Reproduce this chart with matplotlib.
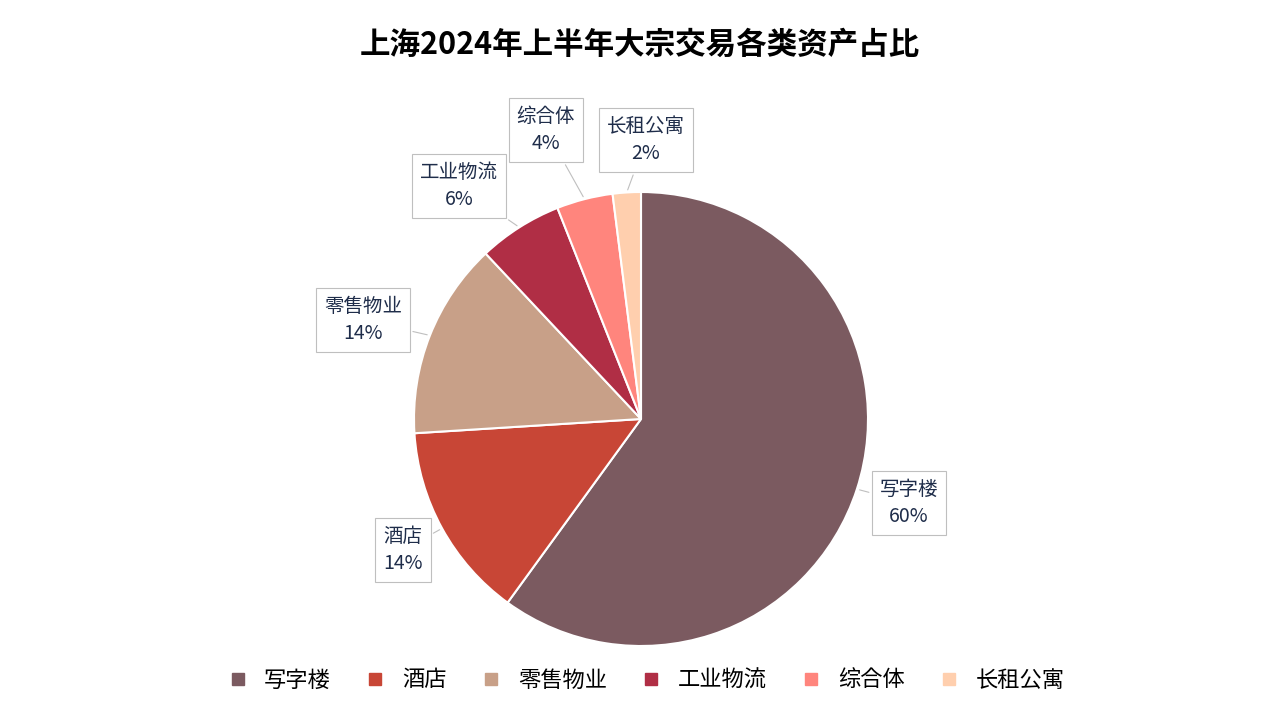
import numpy as np
import matplotlib.pyplot as plt
from matplotlib import font_manager

cjk = [f.name for f in font_manager.fontManager.ttflist if 'CJK' in f.name]
plt.rcParams['font.family'] = 'sans-serif'
plt.rcParams['font.sans-serif'] = ['Noto Sans CJK SC'] + cjk + ['DejaVu Sans']

categories = ['写字楼', '酒店', '零售物业', '工业物流', '综合体', '长租公寓']
shares = [60, 14, 14, 6, 4, 2]
colors = ['#7B5A60', '#C84636', '#C8A088', '#B02E45', '#FF857D', '#FFCFAE']
# label box centres in figure pixels (from top-left)
label_pos = [(909, 503), (403, 550), (363, 320), (459, 186), (546, 130), (646, 140)]

W, H = 1280, 720
fig = plt.figure(figsize=(12.8, 7.2), dpi=100)
cx, cy, r = 641, 419, 227
ax = fig.add_axes([(cx - r) / W, (H - cy - r) / H, 2 * r / W, 2 * r / H])

wedges, _ = ax.pie(shares, colors=colors, startangle=90, counterclock=False,
                   wedgeprops=dict(edgecolor='white', linewidth=1.5))
ax.set_xlim(-1, 1)
ax.set_ylim(-1, 1)
ax.set_aspect('equal')

for w, name, val, (px, py) in zip(wedges, categories, shares, label_pos):
    ang = np.deg2rad((w.theta1 + w.theta2) / 2)
    x, y = np.cos(ang), np.sin(ang)
    ax.annotate(f'{name}\n{val}%', xy=(x, y), xycoords='data',
                xytext=(px / W, 1 - py / H), textcoords='figure fraction',
                ha='center', va='center', fontsize=14, color='#1F2D4A',
                linespacing=1.4,
                bbox=dict(boxstyle='square,pad=0.4', fc='white', ec='#BFBFBF', lw=0.8),
                arrowprops=dict(arrowstyle='-', color='#BFBFBF', lw=0.8))

fig.text(0.5, 1 - 45 / H, '上海2024年上半年大宗交易各类资产占比', ha='center', va='center',
         fontsize=22, fontweight='bold', color='black')

handles = [plt.Line2D([], [], marker='s', ls='', color=c, markersize=8) for c in colors]
fig.legend(handles, categories, loc='center', bbox_to_anchor=(0.5, 1 - 680 / H), ncol=6,
           frameon=False, fontsize=16, handletextpad=0.2, columnspacing=1.0)

fig.savefig('out.png', dpi=100)
